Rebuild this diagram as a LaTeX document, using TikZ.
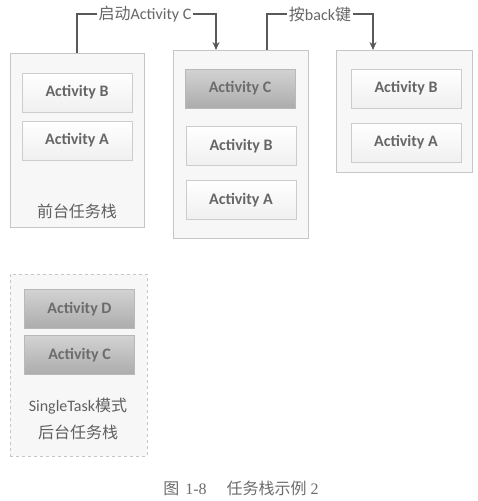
\documentclass[tikz,border=0pt]{standalone}
\usepackage{fontspec}
\setmainfont{Carlito}
\newfontfamily\cjk{Noto Sans CJK SC}
\newfontfamily\capfont{Liberation Serif}
\usetikzlibrary{arrows.meta}

\begin{document}
\begin{tikzpicture}[x=1pt, y=-1pt,
        stack/.style={draw=gray!45, fill=gray!6, inner sep=0pt},
        act/.style={draw=gray!40, top color=white, bottom color=gray!12, inner sep=0pt, minimum width=110pt, minimum height=39pt,
            text=gray!80!black, font=\fontsize{16}{19}\selectfont\bfseries},
        actdark/.style={act, draw=gray!55, top color=gray!35, bottom color=gray!65, text=gray!85!black},
        tag/.style={text=gray!75!black, font=\fontsize{16}{27}\selectfont, align=center},
        steplbl/.style={text=gray!80!black, font=\fontsize{16}{19}\selectfont, inner sep=1.5pt},
        line/.style={line width=1.1pt, draw=gray!70!black},
        arrow/.style={line, -{Stealth[length=8pt, width=7pt]}}
    ]
        \useasboundingbox (0,0) rectangle (477,501);

        % stacks
        \node[stack, minimum width=134pt, minimum height=174pt] (front) at (77,140) {};
        \node[stack, minimum width=135pt, minimum height=188pt] (mid) at (240.5,144) {};
        \node[stack, minimum width=136pt, minimum height=122pt] (after) at (404,111) {};
        \node[stack, dashed, minimum width=137pt, minimum height=182pt] (back) at (78.5,365) {};

        \node[act] (frontB) at (77,92.5) {Activity B};
        \node[act] (frontA) at (77,140.5) {Activity A};
        \node[tag] (frontlbl) at (77,211) {\cjk 前台任务栈};

        \node[actdark] (midC) at (240,88.5) {Activity C};
        \node[act] (midB) at (241,146) {Activity B};
        \node[act] (midA) at (241,200) {Activity A};

        \node[act] (afterB) at (406,88.5) {Activity B};
        \node[act] (afterA) at (406,142.5) {Activity A};

        \node[actdark] (backD) at (79.5,309) {Activity D};
        \node[actdark] (backC) at (79.5,355) {Activity C};
        \node[tag] (backlbl) at (78,418.5) {SingleTask{\cjk 模式}\\{\cjk 后台任务栈}};

        % steps
        \node[steplbl] (start) at (145,14) {{\cjk 启动}Activity C};
        \node[steplbl] (backkey) at (320,14) {{\cjk 按}back{\cjk 键}};
        \coordinate (midin) at (216,50);
        \coordinate (midout) at (267,50);
        \coordinate (afterin) at (373,50);

        \draw[line] (front.north) |- (start.west);
        \draw[arrow] (start.east) -| (midin);
        \draw[line] (midout) |- (backkey.west);
        \draw[arrow] (backkey.east) -| (afterin);

        \node[font=\fontsize{16}{18}\selectfont, text=gray!85!black] (caption) at (241,488)
            {{\cjk 图}\hspace{6pt}{\capfont 1-8}\hspace{20pt}{\cjk 任务栈示例}\hspace{4pt}{\capfont 2}};
\end{tikzpicture}
\end{document}
